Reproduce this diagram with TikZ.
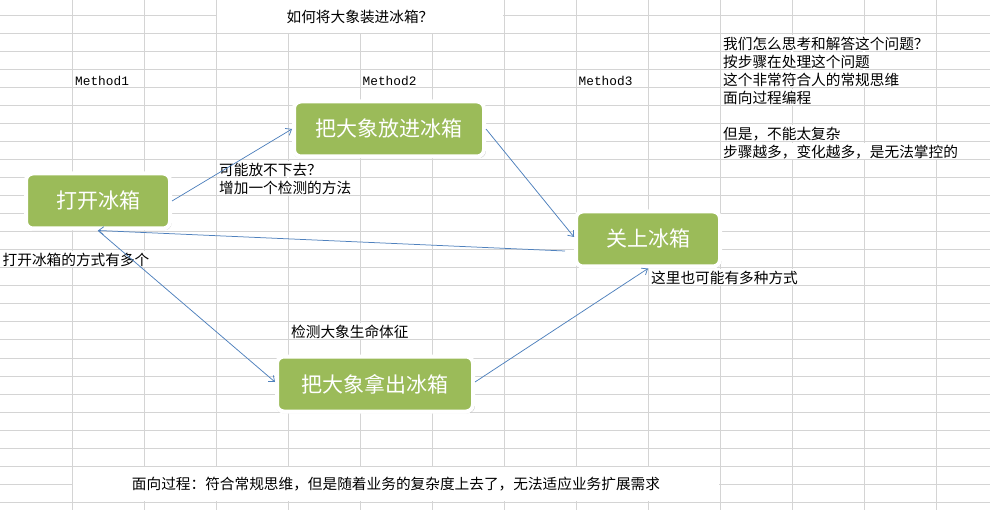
\documentclass[tikz,border=0pt]{standalone}
\usepackage{fontspec}
\setmainfont{Noto Sans CJK SC}
\newfontfamily\monofnt{Liberation Mono}
\usetikzlibrary{arrows.meta,shadows}
\definecolor{boxgreen}{HTML}{9BBB59}
\definecolor{arrowblue}{HTML}{4F81BD}
\definecolor{gridgray}{HTML}{D4D4D4}
\newcommand{\gridvgap}[3]{\fill[white] (#1-1,#2+0.6) rectangle (#1+1,#3-0.6);}
\newcommand{\gridhgap}[3]{\fill[white] (#2+0.6,#1-1) rectangle (#3-0.6,#1+1);}
\begin{document}
\begin{tikzpicture}[x=1pt,y=-1pt,
  lbl/.style={inner sep=0pt, anchor=west, text height=12.9pt, text depth=1.76pt, font=\fontsize{14.67}{16}\selectfont},
  ctr/.style={lbl, anchor=center},
  meth/.style={inner sep=0pt, anchor=west, font=\monofnt\fontsize{12.8}{14}\selectfont},
  stepbox/.style={rounded corners=7pt, fill=boxgreen, draw=white, line width=4pt, inner sep=0pt,
    minimum height=55pt, text=white, text height=18.5pt, text depth=2.5pt, font=\fontsize{21}{24}\selectfont,
    drop shadow={shadow xshift=0.5pt, shadow yshift=-1.2pt, shadow scale=1.015, opacity=0.3, fill=black!70}},
  conn/.style={draw=arrowblue, line width=0.75pt, -{Straight Barb[length=5pt,width=8pt]}}]

\useasboundingbox (0,0) rectangle (990,510);
\fill[white] (0,0) rectangle (990,510);

% spreadsheet grid
\foreach \k in {0,...,27} \draw[gridgray, line width=1pt] (0,16+18*\k) -- (990,16+18*\k);
\foreach \m in {1,...,13} \draw[gridgray, line width=1pt] (72*\m,0) -- (72*\m,510);

% merged cells
\foreach \x in {288,360,432} {\gridvgap{\x}{-2}{34}}
\gridhgap{16}{216}{504}
\foreach \x in {144,216,288,360,432,504,576,648} {\gridvgap{\x}{466}{502}}
\gridhgap{484}{72}{720}

% overflowing text hides vertical lines
\foreach \x in {792,864} {\gridvgap{\x}{34}{88}}
\gridvgap{792}{88}{106}
\gridvgap{792}{124}{142}
\foreach \x in {792,864,936} {\gridvgap{\x}{142}{160}}
\gridvgap{288}{160}{196}
\foreach \x in {72,144} {\gridvgap{\x}{250}{268}}
\foreach \x in {720,792} {\gridvgap{\x}{268}{286}}
\gridvgap{360}{322}{340}

% texts
\node[ctr] (title) at (360,17) {如何将大象装进冰箱？};
\node[meth] (m1) at (75,81) {Method1};
\node[meth] (m2) at (362.5,81) {Method2};
\node[meth] (m3) at (578.5,81) {Method3};

\node[lbl] (r1) at (723,44) {我们怎么思考和解答这个问题？};
\node[lbl] (r2) at (723,62) {按步骤在处理这个问题};
\node[lbl] (r3) at (723,80) {这个非常符合人的常规思维};
\node[lbl] (r4) at (723,98) {面向过程编程};
\node[lbl] (r5) at (723,134) {但是，不能太复杂};
\node[lbl] (r6) at (723,152) {步骤越多，变化越多，是无法掌控的};

\node[lbl] (q1) at (219,170) {可能放不下去？};
\node[lbl] (q2) at (219,188) {增加一个检测的方法};
\node[lbl] (ways) at (2.5,260) {打开冰箱的方式有多个};
\node[lbl] (ways2) at (651,278) {这里也可能有多种方式};
\node[lbl] (check) at (291,332) {检测大象生命体征};
\node[ctr] (summary) at (396,484) {面向过程：符合常规思维，但是随着业务的复杂度上去了，无法适应业务扩展需求};

% step boxes
\node[stepbox, minimum width=144pt] (open) at (98,201) {打开冰箱};
\node[stepbox, minimum width=190pt] (put) at (389,129) {把大象放进冰箱};
\node[stepbox, minimum width=144pt] (close) at (648,239) {关上冰箱};
\node[stepbox, minimum width=196pt] (take) at (375,384) {把大象拿出冰箱};

% connectors
\coordinate (backstart) at (565,251);
\draw[conn] (open.east) -- (put.west);
\draw[conn] (put.east) -- ([yshift=2pt]close.west);
\draw[conn] (backstart) -- (open.south);
\draw[conn] (open.south) -- ([yshift=2pt]take.west);
\draw[conn] ([yshift=2pt]take.east) -- (close.south);
\end{tikzpicture}
\end{document}
